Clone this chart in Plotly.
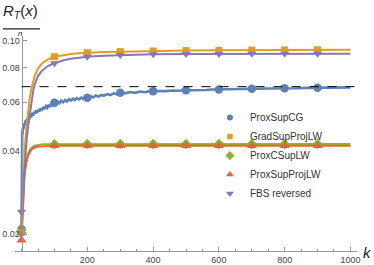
import math
import plotly.graph_objects as go

# ---------------- data ----------------
k_cg = [0, 1, 2, 3, 4, 6, 8, 10, 12, 14, 16, 18, 20, 23, 26, 29, 32, 35, 38, 41, 44, 47, 50,
        54, 58, 62, 66, 70, 74, 78, 82, 86, 90, 95, 100, 105, 110, 115, 120, 126, 132, 138,
        144, 150, 156, 162, 168, 175, 182, 189, 196, 200, 203, 210, 218, 226, 234, 242, 250,
        260, 270, 280, 290, 300, 315, 330, 345, 360, 375, 390, 400, 405, 420, 440, 460, 480,
        500, 520, 540, 560, 580, 600, 630, 660, 690, 700, 720, 750, 780, 800, 810, 840, 870,
        900, 930, 960, 1000]
prox_sup_cg = [0.0208, 0.0445, 0.0472, 0.0458, 0.0486, 0.0479, 0.0502, 0.0494, 0.0515, 0.0503,
               0.0521, 0.0512, 0.0530, 0.0519, 0.0541, 0.0528, 0.0547, 0.0536, 0.0553, 0.0545,
               0.0560, 0.0548, 0.0563, 0.0554, 0.0570, 0.0560, 0.0576, 0.0566, 0.0580, 0.0572,
               0.0586, 0.0576, 0.0590, 0.0583, 0.0597, 0.0589, 0.0602, 0.0594, 0.0607, 0.0599,
               0.0610, 0.0603, 0.0614, 0.0607, 0.0617, 0.0610, 0.0620, 0.0613, 0.0623, 0.0616,
               0.0626, 0.0622, 0.0621, 0.0630, 0.0624, 0.0634, 0.0628, 0.0637, 0.0632, 0.0641,
               0.0636, 0.0645, 0.0640, 0.0648, 0.0645, 0.0652, 0.0648, 0.0655, 0.0651, 0.0657,
               0.0657, 0.0655, 0.0659, 0.0657, 0.0661, 0.0659, 0.0662, 0.0661, 0.0664, 0.0663,
               0.0666, 0.0666, 0.0668, 0.0667, 0.0670, 0.0670, 0.0670, 0.0672, 0.0671, 0.0673,
               0.0673, 0.0673, 0.0675, 0.0676, 0.0676, 0.0677, 0.0678]

k_smooth = [0, 2, 4, 6, 8, 10, 13, 16, 20, 25, 30, 35, 40, 50, 60, 70, 80, 90, 100, 125, 150,
            175, 200, 250, 300, 350, 400, 500, 600, 700, 800, 900, 1000]
grad_sup_proj_lw = [0.0203, 0.0240, 0.0280, 0.0330, 0.0370, 0.0410, 0.0460, 0.0505, 0.0560,
                    0.0625, 0.0670, 0.0715, 0.0748, 0.0793, 0.0822, 0.0842, 0.0857, 0.0867,
                    0.0875, 0.0888, 0.0896, 0.0901, 0.0905, 0.0910, 0.0913, 0.0916, 0.0918,
                    0.0921, 0.0923, 0.0925, 0.0926, 0.0927, 0.0928]
prox_c_sup_lw = [0.0202, 0.0228, 0.0265, 0.0296, 0.0323, 0.0342, 0.0361, 0.0376, 0.0391,
                 0.0403, 0.0410, 0.0414, 0.0417, 0.0420, 0.0421, 0.0422, 0.0422, 0.0422,
                 0.0422, 0.0423, 0.0423, 0.0423, 0.0423, 0.0423, 0.0423, 0.0423, 0.0423,
                 0.0423, 0.0423, 0.0423, 0.0423, 0.0423, 0.0423]
prox_sup_proj_lw = [0.0190, 0.0220, 0.0260, 0.0290, 0.0318, 0.0336, 0.0355, 0.0370, 0.0385,
                    0.0397, 0.0404, 0.0408, 0.0411, 0.0414, 0.0415, 0.0416, 0.0417, 0.0417,
                    0.0417, 0.0417, 0.0417, 0.0417, 0.0417, 0.0417, 0.0417, 0.0417, 0.0417,
                    0.0417, 0.0417, 0.0417, 0.0417, 0.0417, 0.0417]
fbs_reversed = [0.0240, 0.0260, 0.0290, 0.0320, 0.0350, 0.0375, 0.0410, 0.0445, 0.0490,
                0.0548, 0.0605, 0.0655, 0.0695, 0.0745, 0.0775, 0.0795, 0.0810, 0.0820,
                0.0829, 0.0848, 0.0860, 0.0869, 0.0875, 0.0883, 0.0888, 0.0891, 0.0893,
                0.0895, 0.0896, 0.0897, 0.0897, 0.0898, 0.0898]

reference_level = 0.0682
marker_ks = [0, 100, 200, 300, 400, 500, 600, 700, 800, 900]

x_ticks = [200, 400, 600, 800, 1000]
y_ticks = [0.02, 0.04, 0.06, 0.08, 0.10]
y_tick_text = ["0.02", "0.04", "0.06", "0.08", "0.10"]

series = [
    ("ProxSupCG", k_cg, prox_sup_cg, "#5E81B5", "circle", 8.5, 2.6, 6),
    ("GradSupProjLW", k_smooth, grad_sup_proj_lw, "#E19C24", "square", 7, 2, 5.5),
    ("ProxCSupLW", k_smooth, prox_c_sup_lw, "#8FB032", "diamond", 8, 2, 7),
    ("ProxSupProjLW", k_smooth, prox_sup_proj_lw, "#EB6235", "triangle-up", 9, 2, 7),
    ("FBS reversed", k_smooth, fbs_reversed, "#8778B3", "triangle-down", 8, 2, 7),
]

X_MIN, X_MAX = -20, 1020
Y_MIN, Y_MAX = 0.01736, 0.104
FONT = "Liberation Sans, Arial, sans-serif"

fig = go.Figure()
for name, ks, vals, color, sym, msize, lw, lsize in series:
    fig.add_trace(go.Scatter(x=ks, y=vals, mode="lines", line=dict(color=color, width=lw),
                             showlegend=False, hoverinfo="skip"))
    mk = [(k, v) for k, v in zip(ks, vals) if k in marker_ks]
    fig.add_trace(go.Scatter(x=[m[0] for m in mk], y=[m[1] for m in mk], mode="markers",
                             showlegend=False,
                             marker=dict(color=color, symbol=sym, size=msize,
                                         line=dict(width=0))))
for name, ks, vals, color, sym, msize, lw, lsize in series:
    fig.add_trace(go.Scatter(x=[None], y=[None], mode="markers", name=name,
                             marker=dict(color=color, symbol=sym, size=lsize,
                                         line=dict(width=0))))

y_pos = (0 - X_MIN) / (X_MAX - X_MIN)

fig.add_shape(type="line", xref="paper", x0=y_pos, x1=1.0, yref="y",
              y0=reference_level, y1=reference_level,
              line=dict(color="black", width=1, dash="dash"))

# y-axis label as a fraction R_T(x) / n
fig.add_annotation(text="<i>R</i><sub><i>T</i></sub>(<i>x</i>)", xref="paper", yref="paper",
                   x=0.0175, y=1.112, xanchor="center", yanchor="middle", showarrow=False,
                   font=dict(size=15, color="#222", family=FONT))
fig.add_shape(type="line", xref="paper", yref="paper", x0=-0.035, x1=0.073, y0=1.033, y1=1.033,
              line=dict(color="#222", width=1.2))
fig.add_annotation(text="<i>n</i>", xref="paper", yref="paper", x=0.0175, y=1.012,
                   xanchor="center", yanchor="middle", showarrow=False,
                   font=dict(size=8, color="#222", family=FONT))
fig.add_annotation(text="<i>k</i>", xref="paper", yref="paper", x=1.032, y=-0.005,
                   xanchor="center", yanchor="middle", showarrow=False,
                   font=dict(size=15, color="#222", family=FONT))

fig.update_layout(
    width=374, height=265,
    margin=dict(l=15, r=17, t=36, b=14, autoexpand=False),
    paper_bgcolor="white", plot_bgcolor="white",
    font=dict(family=FONT, size=9, color="#444"),
    xaxis=dict(range=[X_MIN, X_MAX], tickvals=x_ticks, ticks="inside", ticklen=4,
               tickcolor="#999", showline=True, linecolor="#999", linewidth=1,
               showgrid=False, zeroline=False, tickfont=dict(size=9, color="#444"),
               automargin=False,
               minor=dict(dtick=50, tick0=0, ticks="inside", ticklen=2.5, tickcolor="#999")),
    yaxis=dict(type="log", range=[math.log10(Y_MIN), math.log10(Y_MAX)],
               tickvals=y_ticks, ticktext=y_tick_text, ticks="inside", ticklen=4,
               tickcolor="#999", showline=True, linecolor="#999", linewidth=1,
               showgrid=False, zeroline=False, anchor="free", position=y_pos,
               automargin=False, tickfont=dict(size=9, color="#444")),
    legend=dict(x=0.57, y=0.688, xanchor="left", yanchor="top", bgcolor="rgba(0,0,0,0)",
                font=dict(size=10, color="#333", family=FONT)),
)

fig.write_html("out.html", config={"displayModeBar": False},
               post_script="document.body.style.margin='0';document.body.style.overflow='hidden';")
